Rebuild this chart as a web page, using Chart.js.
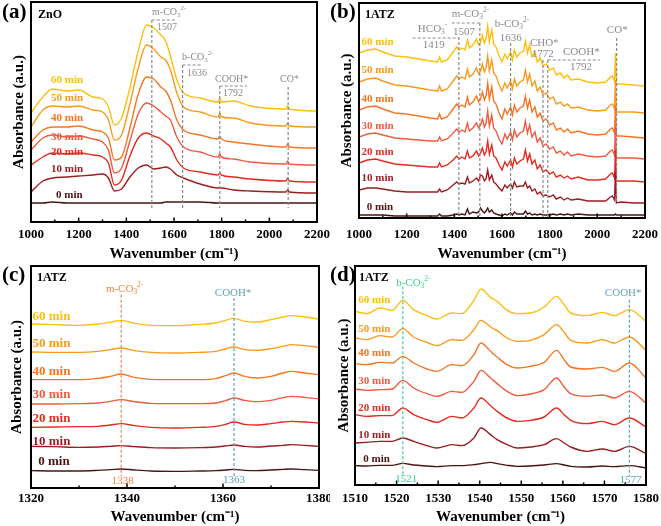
<!DOCTYPE html>
<html lang="en">
<head>
<meta charset="UTF-8">
<title>In situ DRIFTS spectra – ZnO and 1ATZ</title>
<script src="https://cdn.jsdelivr.net/npm/chart.js"></script>
<style>
  body { margin: 0; background: #fff; }
  #fig { position: relative; width: 661px; height: 526px; overflow: hidden; }
  .panel { position: absolute; }
</style>
</head>
<body>
<div id="fig">
  <canvas id="chartA" class="panel" width="330" height="263" style="left:0;top:0"></canvas>
  <canvas id="chartB" class="panel" width="331" height="263" style="left:330px;top:0"></canvas>
  <canvas id="chartC" class="panel" width="330" height="263" style="left:0;top:263px"></canvas>
  <canvas id="chartD" class="panel" width="331" height="263" style="left:330px;top:263px"></canvas>
</div>
<script>
const SERIF = '"Liberation Serif", "Times New Roman", serif';
const GREY = '#8a8a8a';

const minutes = ['0 min', '10 min', '20 min', '30 min', '40 min', '50 min', '60 min'];
const lineColors = ['#4a1414', '#9b1c1f', '#e42b1f', '#ef5a40', '#f47521', '#f89a1c', '#fcbf0f'];

// (a) ZnO, 1000-2200 cm-1
const waveA = [1000, 1050, 1090, 1150, 1200, 1260, 1300, 1325, 1350, 1380, 1415, 1450, 1485, 1515, 1545, 1565, 1585, 1612, 1640, 1710, 1785, 1792, 1799, 1850, 1920, 2070, 2077, 2084, 2200];
const znoMin0  = [19, 19, 20, 19, 19, 19, 19, 19, 19, 19, 19, 19, 19, 19, 19, 20, 20, 20, 20, 20, 19, 19, 19, 19, 19, 19, 19, 19, 19];
const znoMin10 = [30, 41, 44, 45, 46, 47, 48, 44, 31, 33, 45, 54, 57, 53, 54, 55, 53, 47, 44, 38, 34, 34, 34, 32, 31, 30, 32, 30, 29];
const znoMin20 = [57, 65, 69, 68, 69, 67, 65, 59, 37, 42, 66, 84, 89, 86, 83, 79, 75, 62, 54, 50, 47, 49, 47, 45, 43, 41, 44, 41, 40];
const znoMin30 = [72, 84, 87, 85, 86, 83, 80, 72, 49, 54, 81, 108, 119, 116, 110, 106, 102, 85, 75, 70, 65, 68, 65, 63, 60, 58, 61, 58, 57];
const znoMin40 = [80, 92, 95, 95, 96, 92, 90, 84, 62, 65, 94, 128, 145, 143, 135, 131, 122, 102, 92, 87, 83, 86, 83, 80, 78, 75, 78, 75, 74];
const znoMin50 = [95, 112, 116, 115, 116, 112, 110, 102, 82, 87, 118, 154, 177, 173, 165, 162, 152, 129, 115, 110, 105, 109, 105, 104, 99, 96, 99, 96, 95];
const znoMin60 = [109, 125, 133, 131, 132, 125, 123, 115, 97, 104, 134, 171, 197, 194, 187, 181, 166, 142, 129, 124, 120, 124, 120, 121, 116, 113, 116, 113, 111];

// (b) 1ATZ, 1000-2200 cm-1
const waveB = [1000, 1035, 1070, 1100, 1150, 1200, 1250, 1300, 1330, 1338, 1346, 1370, 1395, 1410, 1420, 1432, 1445, 1455, 1463, 1478,
  1493, 1502, 1510, 1518, 1526, 1533, 1540, 1547, 1557, 1565, 1575, 1588, 1600, 1612, 1622, 1636, 1644, 1652, 1662, 1675,
  1690, 1698, 1707, 1716, 1726, 1738, 1748, 1760, 1772, 1785, 1800, 1815, 1828, 1845, 1860, 1875, 1890, 1920, 1960, 2000,
  2035, 2055, 2063, 2072, 2076, 2080, 2100, 2150, 2200];
const atzMin0 = [5, 5, 5, 5, 4, 4, 4, 4, 4, 6, 4, 4, 5, 6, 5, 6, 5, 11, 6, 8,
  7, 8, 12, 9, 7, 9, 12, 8, 10, 7, 6, 5, 4, 6, 5, 7, 5, 8, 6, 6,
  6, 9, 6, 7, 5, 6, 5, 6, 5, 5, 5, 6, 5, 6, 5, 6, 5, 6, 5, 5,
  5, 5, 5, 5, 6, 5, 5, 5, 5];
const atzMin10 = [30, 32, 32, 31, 29, 28, 28, 28, 28, 31, 28, 30, 35, 38, 36, 37, 36, 43, 37, 39,
  42, 39, 45, 44, 39, 41, 50, 40, 45, 38, 36, 32, 29, 35, 32, 36, 32, 38, 33, 34,
  34, 38, 32, 34, 29, 31, 26, 28, 24, 25, 23, 25, 21, 23, 20, 22, 20, 21, 19, 19,
  19, 23, 24, 20, 48, 17, 18, 17, 17];
const atzMin20 = [57, 60, 61, 59, 56, 55, 54, 53, 53, 57, 53, 55, 60, 64, 61, 63, 61, 69, 62, 64,
  69, 64, 67, 72, 65, 68, 79, 66, 75, 64, 62, 55, 50, 58, 54, 60, 53, 62, 56, 59,
  61, 70, 59, 66, 56, 60, 51, 55, 48, 50, 46, 48, 43, 45, 42, 44, 41, 43, 40, 40,
  41, 46, 47, 42, 70, 39, 39, 39, 38];
const atzMin30 = [83, 86, 87, 85, 82, 81, 80, 79, 79, 83, 79, 81, 87, 91, 88, 90, 88, 97, 89, 92,
  97, 92, 95, 101, 93, 97, 109, 94, 105, 92, 89, 81, 76, 86, 81, 88, 80, 90, 83, 87,
  89, 99, 87, 95, 83, 88, 78, 82, 74, 76, 71, 73, 67, 69, 65, 68, 64, 66, 64, 63,
  64, 69, 70, 65, 93, 62, 62, 62, 61];
const atzMin40 = [110, 113, 114, 111, 107, 106, 104, 102, 101, 106, 101, 103, 111, 116, 113, 115, 113, 123, 115, 118,
  124, 118, 121, 128, 120, 124, 137, 121, 133, 119, 116, 107, 101, 111, 106, 113, 105, 115, 108, 112,
  114, 124, 112, 120, 108, 113, 103, 107, 99, 101, 95, 97, 90, 92, 88, 91, 87, 89, 86, 85,
  86, 91, 92, 87, 115, 84, 84, 83, 82];
const atzMin50 = [138, 141, 142, 139, 135, 134, 132, 130, 129, 134, 129, 131, 139, 144, 141, 143, 141, 151, 143, 146,
  152, 146, 149, 156, 148, 152, 164, 149, 160, 147, 144, 135, 129, 137, 132, 139, 131, 141, 134, 138,
  140, 150, 138, 146, 134, 139, 129, 133, 125, 127, 121, 123, 116, 118, 114, 116, 112, 113, 110, 109,
  110, 115, 116, 111, 140, 108, 108, 108, 107];
const atzMin60 = [167, 170, 171, 168, 164, 163, 161, 159, 158, 163, 158, 160, 168, 173, 170, 172, 170, 180, 172, 175,
  181, 175, 178, 185, 177, 181, 194, 178, 190, 176, 173, 164, 158, 166, 161, 168, 160, 170, 163, 167,
  169, 179, 167, 175, 163, 168, 158, 162, 154, 156, 150, 152, 145, 147, 142, 145, 140, 141, 138, 137,
  138, 143, 144, 139, 167, 136, 136, 135, 134];

// (c) 1ATZ, 1320-1380 cm-1
const waveC = [1320, 1325, 1330, 1334, 1336.5, 1338.8, 1341.5, 1345, 1350, 1355, 1358.5, 1360.5, 1362.3, 1364.5, 1367, 1370, 1372.5, 1374.3, 1377, 1380];
const lowMin0  = [37, 36, 36, 38, 40, 42, 39, 36, 35, 36, 37, 39, 41, 38, 37, 39, 41, 42, 40, 38];
const lowMin10 = [110, 109, 107, 108, 110, 112, 109, 106, 105, 106, 108, 111, 114, 110, 108, 111, 113, 115, 113, 110];
const lowMin20 = [167, 168, 169, 170, 174, 178, 172, 167, 165, 167, 170, 176, 183, 176, 174, 178, 183, 185, 183, 180];
const lowMin30 = [237, 237, 238, 240, 245, 250, 244, 239, 238, 238, 240, 247, 255, 248, 244, 248, 256, 260, 257, 252];
const lowMin40 = [310, 310, 310, 314, 320, 327, 317, 311, 310, 310, 313, 322, 330, 320, 315, 320, 330, 335, 330, 325];
const lowMin50 = [393, 392, 392, 395, 400, 405, 397, 392, 390, 392, 395, 402, 408, 400, 398, 403, 410, 415, 412, 407];
const lowMin60 = [477, 475, 473, 477, 482, 488, 479, 473, 472, 476, 480, 488, 494, 485, 483, 490, 498, 502, 498, 492];

// (d) 1ATZ, 1510-1580 cm-1
const waveD = [1510, 1512.8, 1516, 1518.9, 1521.5, 1524.1, 1527.3, 1529.7, 1533.3, 1535.7, 1538.6, 1540.3, 1542.6, 1544.2, 1546.6, 1549, 1552.2, 1555.5, 1558.5, 1560.3, 1561.9, 1565.9, 1569.5, 1572.4, 1576, 1580];
const midMin0  = [52, 51, 53, 53, 59, 54, 51, 49, 52, 52, 55, 58, 62, 58, 53, 50, 51, 54, 58, 54, 50, 48, 51, 49, 52, 45];
const midMin10 = [120, 122, 125, 125, 135, 125, 112, 105, 115, 112, 135, 165, 145, 130, 115, 105, 108, 115, 133, 120, 108, 95, 102, 95, 110, 88];
const midMin20 = [205, 200, 202, 202, 225, 205, 190, 182, 200, 195, 225, 255, 232, 215, 195, 185, 188, 198, 225, 205, 188, 178, 185, 175, 195, 168];
const midMin30 = [282, 278, 280, 282, 308, 285, 268, 260, 275, 272, 305, 338, 315, 298, 275, 262, 267, 280, 315, 288, 268, 260, 264, 255, 275, 240];
const midMin40 = [358, 355, 362, 360, 380, 360, 342, 335, 355, 352, 385, 420, 395, 378, 355, 345, 350, 362, 398, 370, 348, 342, 347, 335, 360, 315];
const midMin50 = [435, 430, 442, 438, 463, 438, 422, 412, 430, 428, 460, 488, 468, 457, 435, 425, 428, 445, 475, 452, 428, 420, 430, 420, 438, 398];
const midMin60 = [515, 508, 525, 518, 548, 520, 502, 492, 510, 508, 548, 582, 557, 545, 518, 508, 510, 528, 560, 535, 510, 502, 512, 502, 520, 485];

const CO3m = ['m-CO', ['3', 1], ['2-', 2]];
const CO3b = ['b-CO', ['3', 1], ['2-', 2]];
const HCO3 = ['HCO', ['3', 1], ['-', 2]];

function drawRich(ctx, parts, px, py, size, color) {
  ctx.fillStyle = color;
  let cx = px;
  parts.forEach(p => {
    const [s, m] = Array.isArray(p) ? p : [p, 0];
    const fs = m ? size * 0.68 : size;
    ctx.font = fs + 'px ' + SERIF;
    ctx.fillText(s, cx, py + (m === 1 ? size * 0.3 : m === 2 ? -size * 0.4 : 0));
    cx += ctx.measureText(s).width;
  });
}

function decor(o) {
  return {
    id: 'decor',
    afterDatasetsDraw(chart) {
      const { ctx, chartArea: a, scales: { x, y } } = chart;
      ctx.save();
      ctx.lineWidth = 1.2;
      ctx.setLineDash([3, 2]);
      o.lines.forEach(l => {
        ctx.strokeStyle = l.c || GREY;
        const px = x.getPixelForValue(l.x);
        ctx.beginPath();
        ctx.moveTo(px, y.getPixelForValue(l.y0));
        ctx.lineTo(px, y.getPixelForValue(l.y1));
        ctx.stroke();
      });
      (o.brackets || []).forEach(b => {
        ctx.strokeStyle = GREY;
        const py = y.getPixelForValue(b.y);
        ctx.beginPath();
        ctx.moveTo(x.getPixelForValue(b.x0), py);
        ctx.lineTo(x.getPixelForValue(b.x1), py);
        ctx.stroke();
      });
      ctx.setLineDash([]);
      ctx.textBaseline = 'middle';
      ctx.textAlign = 'left';
      o.notes.forEach(n => drawRich(ctx, n.t, x.getPixelForValue(n.x), y.getPixelForValue(n.y), o.noteSize, n.c || GREY));

      ctx.font = 'bold ' + o.labelSize + 'px ' + SERIF;
      o.labelY.forEach((v, i) => {
        ctx.fillStyle = lineColors[i];
        ctx.fillText(minutes[i], x.getPixelForValue(i === 0 ? o.labelX0 : o.labelX), y.getPixelForValue(v));
      });

      // frame and inward ticks
      ctx.strokeStyle = '#000';
      ctx.lineWidth = 2;
      ctx.strokeRect(a.left, a.top, a.right - a.left, a.bottom - a.top);
      ctx.lineWidth = 1.5;
      const tick = (px, len) => {
        ctx.beginPath();
        ctx.moveTo(px, a.bottom);
        ctx.lineTo(px, a.bottom - len);
        ctx.stroke();
      };
      x.ticks.forEach((t, k) => {
        tick(x.getPixelForValue(t.value), 4.5);
        if (k < x.ticks.length - 1) tick(x.getPixelForValue(t.value + o.step / 2), 2.5);
      });

      ctx.fillStyle = '#000';
      ctx.font = 'bold 21px ' + SERIF;
      ctx.fillText(o.tag, o.tagX, 13);
      ctx.font = 'bold 12px ' + SERIF;
      ctx.fillText(o.sample, o.sampleX, 15);
      ctx.restore();
    }
  };
}

function spectrumChart(id, o) {
  return new Chart(document.getElementById(id), {
    type: 'line',
    data: {
      datasets: o.series.map((ys, i) => ({
        label: minutes[i],
        data: ys.map((v, k) => ({ x: o.wave[k], y: v })),
        borderColor: lineColors[i],
        borderWidth: 1.4,
        pointRadius: 0,
        tension: o.smooth ? 0.4 : 0,
        cubicInterpolationMode: o.smooth ? 'monotone' : 'default'
      }))
    },
    options: {
      responsive: false,
      animation: false,
      events: [],
      layout: { padding: o.pad },
      plugins: { legend: { display: false }, tooltip: { enabled: false } },
      scales: {
        x: {
          type: 'linear', min: o.xMin, max: o.xMax,
          ticks: {
            stepSize: o.step, autoSkip: false, maxRotation: 0, padding: o.tickPad, color: '#000',
            font: { family: SERIF, size: 13, weight: 'bold' },
            callback: v => String(v)
          },
          grid: { display: false, drawTicks: false },
          border: { display: false },
          title: {
            display: true, text: 'Wavenumber (cm\u207B\u00B9)', color: '#000',
            font: { family: SERIF, size: 15, weight: 'bold' }, padding: { top: 2, bottom: 0 }
          },
          afterFit(s) { s.height = o.xH; s.paddingLeft = 0; s.paddingRight = 0; }
        },
        y: {
          min: o.yMin, max: o.yMax,
          ticks: { display: false },
          grid: { display: false },
          border: { display: false },
          title: {
            display: true, text: 'Absorbance (a.u.)', color: '#000',
            font: { family: SERIF, size: 15, weight: 'bold' }, padding: { top: o.yTitlePad, bottom: 0 }
          },
          afterFit(s) { s.width = o.yW; s.paddingTop = 0; s.paddingBottom = 0; }
        }
      }
    },
    plugins: [decor(o)]
  });
}

spectrumChart('chartA', {
  wave: waveA, series: [znoMin0, znoMin10, znoMin20, znoMin30, znoMin40, znoMin50, znoMin60], smooth: true,
  xMin: 1000, xMax: 2200, step: 200, yMin: 0, yMax: 220,
  pad: { left: 0, right: 13, top: 2, bottom: 0 }, yW: 31, xH: 41, tickPad: 5, yTitlePad: 10,
  tag: '(a)', tagX: 2, sample: 'ZnO', sampleX: 38,
  labelX: 1084, labelX0: 1105, labelY: [27, 53, 70, 85, 104, 124, 142], labelSize: 11,
  noteSize: 10,
  lines: [{ x: 1507, y0: 202, y1: 14 }, { x: 1636, y0: 157, y1: 14 }, { x: 1792, y0: 136, y1: 14 }, { x: 2079, y0: 135, y1: 14 }],
  brackets: [{ x0: 1507, x1: 1604, y: 202 }, { x0: 1636, x1: 1717, y: 157 }, { x0: 1792, x1: 1906, y: 136 }],
  notes: [
    { x: 1508, y: 210, t: CO3m }, { x: 1529, y: 195, t: ['1507'] },
    { x: 1634, y: 165, t: CO3b }, { x: 1655, y: 149, t: ['1636'] },
    { x: 1772, y: 143, t: ['COOH*'] }, { x: 1806, y: 129, t: ['1792'] },
    { x: 2045, y: 143, t: ['CO*'] }
  ]
});

spectrumChart('chartB', {
  wave: waveB, series: [atzMin0, atzMin10, atzMin20, atzMin30, atzMin40, atzMin50, atzMin60], smooth: false,
  xMin: 1000, xMax: 2200, step: 200, yMin: 2, yMax: 217,
  pad: { left: 0, right: 16, top: 3, bottom: 0 }, yW: 29, xH: 45, tickPad: 9, yTitlePad: 8,
  tag: '(b)', tagX: 0, sample: '1ATZ', sampleX: 35,
  labelX: 1011, labelX0: 1032, labelY: [13, 42, 68, 94, 121, 150, 178], labelSize: 11,
  noteSize: 11,
  lines: [{ x: 1419, y0: 183, y1: 2 }, { x: 1507, y0: 197, y1: 2 }, { x: 1636, y0: 177, y1: 2 },
    { x: 1772, y0: 160, y1: 2 }, { x: 1792, y0: 160, y1: 2 }, { x: 2081, y0: 182, y1: 17 }],
  brackets: [{ x0: 1225, x1: 1419, y: 182 }, { x0: 1389, x1: 1507, y: 197 }, { x0: 1792, x1: 2011, y: 160 }],
  notes: [
    { x: 1247, y: 191, t: HCO3 }, { x: 1268, y: 175, t: ['1419'] },
    { x: 1389, y: 206, t: CO3m }, { x: 1394, y: 188, t: ['1507'] },
    { x: 1570, y: 196, t: CO3b }, { x: 1591, y: 182, t: ['1636'] },
    { x: 1717, y: 177, t: ['CHO*'] }, { x: 1725, y: 166, t: ['1772'] },
    { x: 1856, y: 168, t: ['COOH*'] }, { x: 1885, y: 153, t: ['1792'] },
    { x: 2040, y: 190, t: ['CO*'] }
  ]
});

spectrumChart('chartC', {
  wave: waveC, series: [lowMin0, lowMin10, lowMin20, lowMin30, lowMin40, lowMin50, lowMin60], smooth: true,
  xMin: 1320, xMax: 1380, step: 20, yMin: -15, yMax: 651,
  pad: { left: 0, right: 11, top: 3, bottom: 0 }, yW: 31, xH: 38, tickPad: 3, yTitlePad: 8,
  tag: '(c)', tagX: 2, sample: '1ATZ', sampleX: 37,
  labelX: 1320.3, labelX0: 1321.5, labelY: [63, 125, 194, 264, 333, 417, 500], labelSize: 13,
  noteSize: 11,
  lines: [{ x: 1338.8, y0: 565, y1: 20, c: '#f5853f' }, { x: 1362.3, y0: 555, y1: 20, c: '#5fa3b8' }],
  notes: [
    { x: 1335.6, y: 582, t: CO3m, c: '#f5853f' }, { x: 1336.8, y: 5, t: ['1338'], c: '#f5853f' },
    { x: 1358.3, y: 570, t: ['COOH*'], c: '#5fa3b8' }, { x: 1360, y: 8, t: ['1363'], c: '#5fa3b8' }
  ]
});

spectrumChart('chartD', {
  wave: waveD, series: [midMin0, midMin10, midMin20, midMin30, midMin40, midMin50, midMin60], smooth: true,
  xMin: 1510, xMax: 1580, step: 10, yMin: -6, yMax: 651,
  pad: { left: 0, right: 15, top: 3, bottom: 0 }, yW: 25, xH: 41, tickPad: 6, yTitlePad: 5,
  tag: '(d)', tagX: 0, sample: '1ATZ', sampleX: 29,
  labelX: 1510.8, labelX0: 1512, labelY: [73, 145, 225, 305, 390, 462, 550], labelSize: 11,
  noteSize: 11,
  lines: [{ x: 1521.5, y0: 590, y1: 20, c: '#3ecf8e' }, { x: 1576, y0: 550, y1: 20, c: '#5fa3b8' }],
  notes: [
    { x: 1519.9, y: 600, t: CO3b, c: '#3ecf8e' }, { x: 1519.7, y: 12, t: ['1521'], c: '#3ecf8e' },
    { x: 1570.1, y: 570, t: ['COOH*'], c: '#5fa3b8' }, { x: 1573.6, y: 10, t: ['1577'], c: '#5fa3b8' }
  ]
});
</script>
</body>
</html>
